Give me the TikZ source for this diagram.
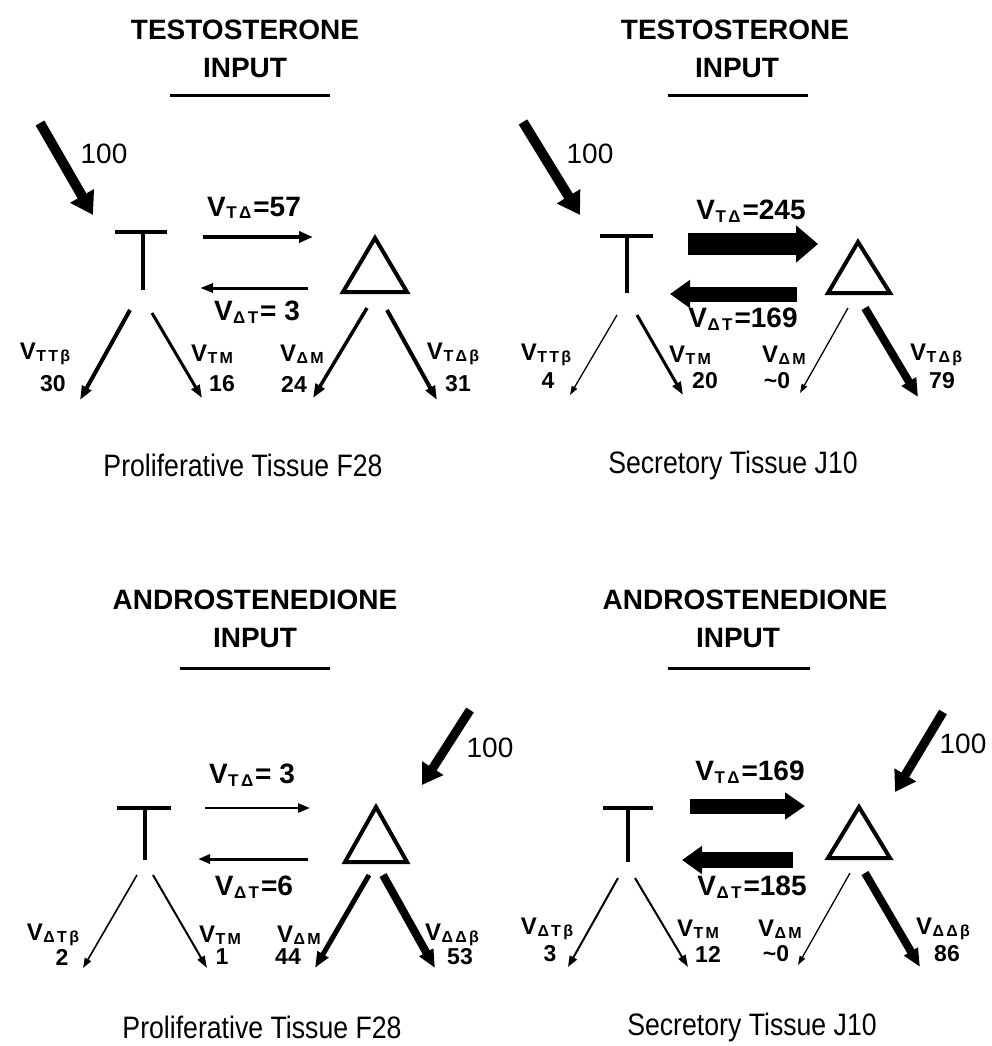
\documentclass[tikz,border=0pt]{standalone}
\usepackage{fontspec}
\setmainfont{Liberation Sans}
\newfontfamily\subf[LetterSpace=14]{Liberation Sans}
\newfontfamily\capf[FakeStretch=0.86]{Liberation Sans}
\usetikzlibrary{arrows.meta}
\newcommand{\Vb}[1]{V\kern0.5pt\raisebox{-2.5pt}{\subf\bfseries\fontsize{17}{17}\selectfont #1}\kern2pt}
\newcommand{\Vs}[1]{V\kern0.5pt\raisebox{-2.5pt}{\subf\bfseries\fontsize{16}{16}\selectfont #1}}
\tikzset{
  fl/.style n args={3}{line width=#1, -{Triangle[length=#2, width=#3]}},
  title/.style={font=\fontsize{28}{28}\selectfont\bfseries, inner sep=0pt},
  caption/.style={font=\capf\fontsize{31}{31}\selectfont, inner sep=0pt},
  flux/.style={font=\fontsize{28}{28}\selectfont\bfseries, inner sep=0pt},
  lbl/.style={font=\fontsize{24}{24}\selectfont\bfseries, inner sep=0pt},
  num/.style={font=\fontsize{23}{23}\selectfont\bfseries, inner sep=0pt},
  inlbl/.style={font=\fontsize{28}{28}\selectfont, inner sep=0pt},
  sym/.style={line width=4pt},
  uline/.style={line width=3pt},
}
\begin{document}
\begin{tikzpicture}[x=1pt,y=-1pt]
\useasboundingbox (0,0) rectangle (991,1046);

%%%%%%%%%%%%%%%% TOP LEFT
\node[title] (tl-t1) at (245,30) {TESTOSTERONE};
\node[title] (tl-t2) at (245,68) {INPUT};
\coordinate (tl-u1) at (170,96); \coordinate (tl-u2) at (330,96);
\draw[uline] (tl-u1) -- (tl-u2);
% T and triangle
\coordinate (tl-Ta) at (115,232); \coordinate (tl-Tb) at (167,232);
\coordinate (tl-Tc) at (143,232); \coordinate (tl-Td) at (143,290);
\draw[sym] (tl-Ta) -- (tl-Tb); \draw[sym] (tl-Tc) -- (tl-Td);
\coordinate (tl-D1) at (375,238); \coordinate (tl-D2) at (343,292); \coordinate (tl-D3) at (407,292);
\draw[sym, line join=miter] (tl-D1) -- (tl-D2) -- (tl-D3) -- cycle;
% arrows
\coordinate (tl-i1) at (40,123); \coordinate (tl-i2) at (93,215);
\draw[fl={10pt}{22pt}{26pt}] (tl-i1) -- (tl-i2);
\node[inlbl] (tl-in) at (104,154) {100};
\coordinate (tl-a1) at (203,237); \coordinate (tl-a2) at (313,237);
\draw[fl={4.5pt}{14pt}{11pt}] (tl-a1) -- (tl-a2);
\node[flux] (tl-la) at (254,208) {\Vb{TΔ}=57};
\coordinate (tl-b1) at (308,288); \coordinate (tl-b2) at (200,288);
\draw[fl={3pt}{13pt}{9pt}] (tl-b1) -- (tl-b2);
\node[flux] (tl-lb) at (257,312) {\Vb{ΔT} = 3};
\coordinate (tl-c1) at (130,310); \coordinate (tl-c2) at (80,400);
\draw[fl={4pt}{14pt}{10pt}] (tl-c1) -- (tl-c2);
\node[lbl] (tl-lc) at (45,354) {\Vs{TTβ}};
\node[num] (tl-nc) at (53,384) {30};
\coordinate (tl-d1) at (152,313); \coordinate (tl-d2) at (202,398);
\draw[fl={3pt}{13pt}{9pt}] (tl-d1) -- (tl-d2);
\node[lbl] (tl-ld) at (212,354) {\Vs{TM}};
\node[num] (tl-nd) at (222,384) {16};
\coordinate (tl-e1) at (367,308); \coordinate (tl-e2) at (313,398);
\draw[fl={3.5pt}{14pt}{10pt}] (tl-e1) -- (tl-e2);
\node[lbl] (tl-le) at (302,354) {\Vs{ΔM}};
\node[num] (tl-ne) at (294,384) {24};
\coordinate (tl-f1) at (387,310); \coordinate (tl-f2) at (437,400);
\draw[fl={4pt}{14pt}{10pt}] (tl-f1) -- (tl-f2);
\node[lbl] (tl-lf) at (453,354) {\Vs{TΔβ}};
\node[num] (tl-nf) at (458,384) {31};
\node[caption] (tl-cap) at (243,465) {Proliferative Tissue F28};

%%%%%%%%%%%%%%%% TOP RIGHT
\node[title] (tr-t1) at (735,30) {TESTOSTERONE};
\node[title] (tr-t2) at (737,68) {INPUT};
\coordinate (tr-u1) at (668,96); \coordinate (tr-u2) at (808,96);
\draw[uline] (tr-u1) -- (tr-u2);
\coordinate (tr-Ta) at (600,236); \coordinate (tr-Tb) at (653,236);
\coordinate (tr-Tc) at (627,236); \coordinate (tr-Td) at (627,293);
\draw[sym] (tr-Ta) -- (tr-Tb); \draw[sym] (tr-Tc) -- (tr-Td);
\coordinate (tr-D1) at (858,242); \coordinate (tr-D2) at (828,293); \coordinate (tr-D3) at (890,293);
\draw[sym, line join=miter] (tr-D1) -- (tr-D2) -- (tr-D3) -- cycle;
\coordinate (tr-i1) at (523,122); \coordinate (tr-i2) at (580,215);
\draw[fl={10pt}{22pt}{26pt}] (tr-i1) -- (tr-i2);
\node[inlbl] (tr-in) at (590,154) {100};
\coordinate (tr-a1) at (688,244); \coordinate (tr-a2) at (818,244);
\draw[fl={22pt}{22pt}{36pt}] (tr-a1) -- (tr-a2);
\node[flux] (tr-la) at (751,211) {\Vb{TΔ} =245};
\coordinate (tr-b1) at (797,294); \coordinate (tr-b2) at (670,294);
\draw[fl={15pt}{20pt}{27pt}] (tr-b1) -- (tr-b2);
\node[flux] (tr-lb) at (743,319) {\Vb{ΔT}=169};
\coordinate (tr-c1) at (617,315); \coordinate (tr-c2) at (570,395);
\draw[fl={1.3pt}{9pt}{6pt}] (tr-c1) -- (tr-c2);
\node[lbl] (tr-lc) at (546,355) {\Vs{TTβ}};
\node[num] (tr-nc) at (548,381) {4};
\coordinate (tr-d1) at (637,315); \coordinate (tr-d2) at (683,395);
\draw[fl={3pt}{13pt}{9pt}] (tr-d1) -- (tr-d2);
\node[lbl] (tr-ld) at (690,355) {\Vs{TM}};
\node[num] (tr-nd) at (705,381) {20};
\coordinate (tr-e1) at (848,308); \coordinate (tr-e2) at (800,393);
\draw[fl={1.3pt}{9pt}{6pt}] (tr-e1) -- (tr-e2);
\node[lbl] (tr-le) at (784,355) {\Vs{ΔM}};
\node[num] (tr-ne) at (777,381) {\textasciitilde 0};
\coordinate (tr-f1) at (865,308); \coordinate (tr-f2) at (918,397);
\draw[fl={8pt}{18pt}{16pt}] (tr-f1) -- (tr-f2);
\node[lbl] (tr-lf) at (936,355) {\Vs{TΔβ}};
\node[num] (tr-nf) at (942,381) {79};
\node[caption] (tr-cap) at (733,465) {Secretory Tissue J10};

%%%%%%%%%%%%%%%% BOTTOM LEFT
\node[title] (bl-t1) at (255,600) {ANDROSTENEDIONE};
\node[title] (bl-t2) at (255,638) {INPUT};
\coordinate (bl-u1) at (180,668); \coordinate (bl-u2) at (330,668);
\draw[uline] (bl-u1) -- (bl-u2);
\coordinate (bl-Ta) at (117,808); \coordinate (bl-Tb) at (171,808);
\coordinate (bl-Tc) at (145,808); \coordinate (bl-Td) at (145,860);
\draw[sym] (bl-Ta) -- (bl-Tb); \draw[sym] (bl-Tc) -- (bl-Td);
\coordinate (bl-D1) at (376,807); \coordinate (bl-D2) at (345,862); \coordinate (bl-D3) at (407,862);
\draw[sym, line join=miter] (bl-D1) -- (bl-D2) -- (bl-D3) -- cycle;
\coordinate (bl-i1) at (470,710); \coordinate (bl-i2) at (422,785);
\draw[fl={9pt}{20pt}{24pt}] (bl-i1) -- (bl-i2);
\node[inlbl] (bl-in) at (490,748) {100};
\coordinate (bl-a1) at (205,808); \coordinate (bl-a2) at (310,808);
\draw[fl={2.5pt}{12pt}{9pt}] (bl-a1) -- (bl-a2);
\node[flux] (bl-la) at (252,775) {\Vb{TΔ} = 3};
\coordinate (bl-b1) at (308,859); \coordinate (bl-b2) at (198,859);
\draw[fl={3pt}{12pt}{9pt}] (bl-b1) -- (bl-b2);
\node[flux] (bl-lb) at (254,887) {\Vb{ΔT}=6};
\coordinate (bl-c1) at (137,875); \coordinate (bl-c2) at (83,968);
\draw[fl={1.6pt}{10pt}{7pt}] (bl-c1) -- (bl-c2);
\node[lbl] (bl-lc) at (53,935) {\Vs{ΔTβ}};
\node[num] (bl-nc) at (62,957) {2};
\coordinate (bl-d1) at (153,875); \coordinate (bl-d2) at (207,968);
\draw[fl={2pt}{12pt}{8pt}] (bl-d1) -- (bl-d2);
\node[lbl] (bl-ld) at (220,935) {\Vs{TM}};
\node[num] (bl-nd) at (222,957) {1};
\coordinate (bl-e1) at (369,875); \coordinate (bl-e2) at (315,968);
\draw[fl={5pt}{16pt}{12pt}] (bl-e1) -- (bl-e2);
\node[lbl] (bl-le) at (299,935) {\Vs{ΔM}};
\node[num] (bl-ne) at (288,957) {44};
\coordinate (bl-f1) at (383,875); \coordinate (bl-f2) at (435,968);
\draw[fl={8pt}{18pt}{15pt}] (bl-f1) -- (bl-f2);
\node[lbl] (bl-lf) at (452,935) {\Vs{ΔΔβ}};
\node[num] (bl-nf) at (460,957) {53};
\node[caption] (bl-cap) at (262,1027) {Proliferative Tissue F28};

%%%%%%%%%%%%%%%% BOTTOM RIGHT
\node[title] (br-t1) at (745,600) {ANDROSTENEDIONE};
\node[title] (br-t2) at (738,638) {INPUT};
\coordinate (br-u1) at (668,668); \coordinate (br-u2) at (810,668);
\draw[uline] (br-u1) -- (br-u2);
\coordinate (br-Ta) at (603,808); \coordinate (br-Tb) at (653,808);
\coordinate (br-Tc) at (628,808); \coordinate (br-Td) at (628,862);
\draw[sym] (br-Ta) -- (br-Tb); \draw[sym] (br-Tc) -- (br-Td);
\coordinate (br-D1) at (859,807); \coordinate (br-D2) at (828,858); \coordinate (br-D3) at (890,858);
\draw[sym, line join=miter] (br-D1) -- (br-D2) -- (br-D3) -- cycle;
\coordinate (br-i1) at (943,712); \coordinate (br-i2) at (895,792);
\draw[fl={9pt}{20pt}{24pt}] (br-i1) -- (br-i2);
\node[inlbl] (br-in) at (963,744) {100};
\coordinate (br-a1) at (690,806); \coordinate (br-a2) at (805,806);
\draw[fl={15pt}{20pt}{26pt}] (br-a1) -- (br-a2);
\node[flux] (br-la) at (750,772) {\Vb{TΔ} =169};
\coordinate (br-b1) at (793,860); \coordinate (br-b2) at (682,860);
\draw[fl={16pt}{20pt}{27pt}] (br-b1) -- (br-b2);
\node[flux] (br-lb) at (752,887) {\Vb{ΔT}=185};
\coordinate (br-c1) at (618,878); \coordinate (br-c2) at (568,967);
\draw[fl={2pt}{11pt}{8pt}] (br-c1) -- (br-c2);
\node[lbl] (br-lc) at (547,929) {\Vs{ΔTβ}};
\node[num] (br-nc) at (550,954) {3};
\coordinate (br-d1) at (635,878); \coordinate (br-d2) at (688,967);
\draw[fl={2pt}{12pt}{8pt}] (br-d1) -- (br-d2);
\node[lbl] (br-ld) at (698,929) {\Vs{TM}};
\node[num] (br-nd) at (708,954) {12};
\coordinate (br-e1) at (850,873); \coordinate (br-e2) at (798,965);
\draw[fl={1.3pt}{9pt}{6pt}] (br-e1) -- (br-e2);
\node[lbl] (br-le) at (780,929) {\Vs{ΔM}};
\node[num] (br-ne) at (776,954) {\textasciitilde 0};
\coordinate (br-f1) at (865,873); \coordinate (br-f2) at (920,967);
\draw[fl={8pt}{18pt}{15pt}] (br-f1) -- (br-f2);
\node[lbl] (br-lf) at (943,929) {\Vs{ΔΔβ}};
\node[num] (br-nf) at (947,954) {86};
\node[caption] (br-cap) at (752,1027) {Secretory Tissue J10};
\end{tikzpicture}
\end{document}
